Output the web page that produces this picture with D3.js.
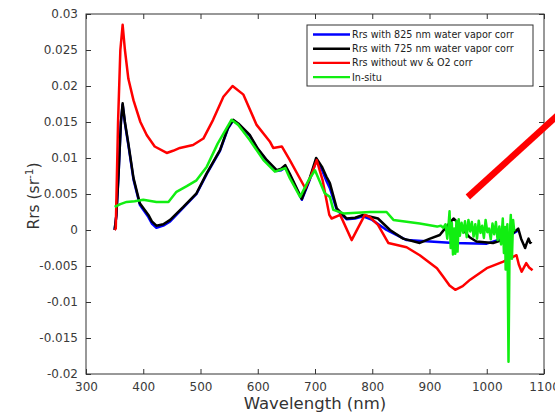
<!DOCTYPE html>
<html><head><meta charset="utf-8">
<script src="https://cdn.jsdelivr.net/npm/d3@7"></script>
<style>body{margin:0;background:#fff}svg{display:block}</style>
</head><body>
<script>
// ---- data ----
const xTicks = [300,400,500,600,700,800,900,1000,1100];
const yTicks = [0.03,0.025,0.02,0.015,0.01,0.005,0,-0.005,-0.01,-0.015,-0.02];
const yTickLabels = ["0.03","0.025","0.02","0.015","0.01","0.005","0","-0.005","-0.01","-0.015","-0.02"];
const seriesNames = ["Rrs with 825 nm water vapor corr","Rrs with 725 nm water vapor corr","Rrs without wv & O2 corr","In-situ"];
const seriesColors = ["#0000ff","#000000","#ff0000","#11ee11"];

const blueWl = [350,353,357,361,364,368,374,383,394,409,415,423,435,447,470,493,511,534,548,557,566,586,600,616,633,641,648,656,677,690,702,712,720,726,738,755,770,784,800,825,860,901,942,1000,1035,1052,1055];
const blueV  = [0.0,0.002,0.008,0.015,0.0174,0.0148,0.0118,0.007,0.0035,0.0018,0.0009,0.0003,0.0006,0.0012,0.0031,0.005,0.0078,0.011,0.0141,0.0152,0.0147,0.0131,0.0112,0.0096,0.0082,0.0083,0.0087,0.0076,0.0042,0.0068,0.0096,0.0084,0.0068,0.0058,0.0028,0.0015,0.0016,0.0019,0.0014,0.0,-0.0014,-0.0016,-0.0018,-0.0019,-0.001,-0.0002,0.0];

const blackWl = [350,353,357,361,364,368,374,383,394,409,415,423,435,447,470,493,511,534,548,557,566,586,600,616,633,641,648,656,677,690,702,712,720,726,738,755,770,784,810,831,854,883,901,918,930,942,950,959,970,982,1011,1035,1048,1055,1060,1067,1070,1073,1076,1078];
const blackV  = [0.0,0.002,0.008,0.015,0.0176,0.015,0.012,0.0072,0.0037,0.0021,0.0012,0.0006,0.0008,0.0014,0.0032,0.0051,0.0079,0.0111,0.0142,0.0153,0.0148,0.0132,0.0113,0.0097,0.0083,0.0085,0.009,0.0078,0.0043,0.007,0.01,0.0088,0.0074,0.0065,0.003,0.0016,0.0017,0.0021,0.0016,0.0,-0.0012,-0.0018,-0.0012,-0.0007,0.0005,0.0016,0.001,0.0,-0.001,-0.0016,-0.0018,-0.0012,-0.0003,0.0002,-0.0012,-0.0025,-0.0018,-0.0012,-0.0018,-0.0016];

const redWl = [350,352,356,360,364,368,374,383,395,406,420,441,452,464,487,505,522,540,556,575,598,621,627,642,656,683,693,703,713,725,729,744,764,787,796,810,828,860,883,913,924,935,945,958,971,1000,1029,1052,1056,1061,1065,1069,1074,1080];
const redV  = [0.0,0.0002,0.015,0.025,0.0285,0.025,0.021,0.018,0.015,0.0132,0.0116,0.0107,0.011,0.0114,0.0118,0.0127,0.0153,0.0185,0.02,0.0188,0.0146,0.0123,0.0114,0.0116,0.0097,0.0058,0.0075,0.0097,0.007,0.0021,0.0016,0.0021,-0.0014,0.0021,0.0018,0.0007,-0.0018,-0.0024,-0.0035,-0.0053,-0.0065,-0.0077,-0.0083,-0.0078,-0.0069,-0.0053,-0.0044,-0.0035,-0.0048,-0.0058,-0.0052,-0.0046,-0.0052,-0.0056];

const greenWl = [350,360,371,385,400,423,444,458,476,493,511,530,554,566,586,610,630,648,656,674,688,700,717,726,732,750,796,825,837,883,913,
  915,920,924,928,931,933,935,937,939,941,943,945,947,949,951,953,956,959,962,965,968,971,974,977,980,983,986,989,992,995,998,1001,1004,1007,1010,1013,1016,1019,1022,1025,1028,1030,1032,1033,1034,1036,1038,1040,1042,1044,1046,1048];
const greenV  = [0.0032,0.0036,0.0039,0.004,0.0042,0.0039,0.0039,0.0053,0.0061,0.0069,0.0088,0.012,0.0153,0.0146,0.0125,0.0097,0.0081,0.0086,0.0072,0.0046,0.0068,0.0083,0.0051,0.0046,0.0028,0.0023,0.0025,0.0025,0.0014,0.0009,0.0005,
  0.0005,0.0006,0.0003,0.0008,-0.0012,0.0004,0.0026,-0.0025,0.001,-0.0034,0.0002,-0.0033,0.0012,-0.003,0.0015,-0.0008,0.001,-0.0004,0.0012,-0.001,0.0014,-0.0002,0.0011,-0.0009,0.0008,-0.0012,0.0013,-0.0004,0.0006,-0.0011,0.0014,-0.0003,0.0002,-0.0013,0.0009,-0.0006,0.0011,-0.0014,0.0005,-0.002,0.0016,-0.0032,0.0004,-0.0055,-0.0025,0.0008,-0.0183,-0.001,0.0021,-0.004,0.0014,-0.0002];

const arrowWl = [967,1128];
const arrowV  = [0.00458,0.01625];

// ---- chart ----
const W = 555, H = 412;
const m = {l:86, r:11, t:14, b:38};
const svg = d3.select("body").append("svg").attr("width",W).attr("height",H)
  .style("font-family","'DejaVu Sans', sans-serif");

const x = d3.scaleLinear().domain([300,1100]).range([m.l, W-m.r]);
const y = d3.scaleLinear().domain([-0.02,0.03]).range([H-m.b, m.t]);

const axCol = "#333";
svg.append("rect").attr("x",x(300)).attr("y",y(0.03)).attr("width",x(1100)-x(300)).attr("height",y(-0.02)-y(0.03))
  .attr("fill","none").attr("stroke",axCol).attr("stroke-width",1);

const tl = 5;
const gBottom = svg.append("g").attr("transform",`translate(0,${y(-0.02)})`)
  .call(d3.axisBottom(x).tickValues(xTicks).tickSize(-tl).tickPadding(8).tickFormat(d3.format("d")));
const gTop = svg.append("g").attr("transform",`translate(0,${y(0.03)})`)
  .call(d3.axisTop(x).tickValues(xTicks).tickSize(-tl).tickFormat(""));
const gLeft = svg.append("g").attr("transform",`translate(${x(300)},0)`)
  .call(d3.axisLeft(y).tickValues(yTicks).tickSize(-tl).tickPadding(8).tickFormat((d,i)=>yTickLabels[i]));
const gRight = svg.append("g").attr("transform",`translate(${x(1100)},0)`)
  .call(d3.axisRight(y).tickValues(yTicks).tickSize(-tl).tickFormat(""));
[gBottom,gTop,gLeft,gRight].forEach(g=>{
  g.select(".domain").remove();
  g.selectAll(".tick line").attr("stroke",axCol);
  g.selectAll(".tick text").attr("fill","#3a3a3a").style("font-size","12px").style("font-family","'DejaVu Sans', sans-serif");
});

const line = d3.line().x(d=>x(d[0])).y(d=>y(d[1]));
const series = [
  {wl:blueWl, v:blueV, c:seriesColors[0]},
  {wl:blackWl, v:blackV, c:seriesColors[1]},
  {wl:redWl, v:redV, c:seriesColors[2]},
  {wl:greenWl, v:greenV, c:seriesColors[3]}
];
series.forEach(s=>{
  svg.append("path").datum(s.wl.map((w,i)=>[w,s.v[i]]))
    .attr("d",line).attr("fill","none").attr("stroke",s.c).attr("stroke-width",2.5)
    .attr("stroke-linejoin","round");
});

svg.append("path").datum(arrowWl.map((w,i)=>[w,arrowV[i]])).attr("d",line)
  .attr("stroke","#ff0000").attr("stroke-width",6.5).attr("fill","none");

const lg = svg.append("g");
const lx = 307, ly = 25, lw = 226, lh = 61;
lg.append("rect").attr("x",lx).attr("y",ly).attr("width",lw).attr("height",lh)
  .attr("fill","#fff").attr("stroke",axCol).attr("stroke-width",1);
seriesNames.forEach((n,i)=>{
  const yy = ly + 9.5 + i*14.2;
  lg.append("line").attr("x1",lx+6).attr("x2",lx+43).attr("y1",yy).attr("y2",yy)
    .attr("stroke",seriesColors[i]).attr("stroke-width",2.4);
  lg.append("text").attr("x",lx+45).attr("y",yy+3.4).text(n)
    .attr("fill","#222").style("font-size","9.6px");
});

svg.append("text").attr("x",x(700)).attr("y",H-3).attr("text-anchor","middle")
  .attr("fill","#333").style("font-size","16.5px").text("Wavelength (nm)");
const yt = svg.append("text").attr("transform",`translate(39,196) rotate(-90)`)
  .attr("text-anchor","middle").attr("fill","#333").style("font-size","15.5px");
yt.append("tspan").text("Rrs (sr");
yt.append("tspan").attr("dy",-6).style("font-size","10.5px").text("-1");
yt.append("tspan").attr("dy",6).text(")");
</script>
</body></html>
